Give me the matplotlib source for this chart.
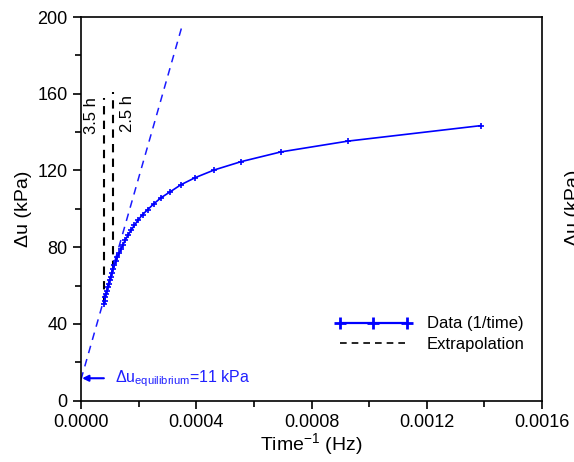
import matplotlib
matplotlib.use('Agg')
import numpy as np
import matplotlib.pyplot as plt
from matplotlib.lines import Line2D

plt.rcParams['font.family'] = ['Liberation Sans', 'DejaVu Sans']
plt.rcParams['mathtext.fontset'] = 'custom'
plt.rcParams['mathtext.rm'] = 'Liberation Sans'
plt.rcParams['mathtext.it'] = 'Liberation Sans:italic'

# elapsed time of each reading (min) and excess pore pressure (kPa)
time_min = [12, 18, 24, 30, 36, 42, 48, 54, 60, 66, 72, 78, 84, 90, 96, 102, 108,
            114, 120, 126, 132, 138, 144, 150, 156, 162, 168, 174, 180, 186, 192,
            198, 204, 210]
du_kpa = [143.4, 135.3, 129.7, 124.6, 120.3, 116.3, 112.6, 108.8, 105.8, 102.6,
          99.6, 97.0, 94.2, 91.4, 88.8, 86.4, 83.9, 81.4, 79.0, 76.8, 74.7, 72.6,
          70.5, 68.5, 66.6, 64.7, 62.8, 61.0, 59.2, 57.4, 55.6, 53.8, 52.1, 50.5]

# linear extrapolation to 1/t = 0
extrap_x = [0.0, 0.000353]
extrap_y = [11.0, 196.5]

# vertical markers at 3.5 h and 2.5 h
cut_hours = [3.5, 2.5]
cut_bottom = [50.5, 68.5]
cut_top = [158, 161]

inv_t = [1.0 / (t * 60.0) for t in time_min]

fig = plt.figure(figsize=(5.74, 4.62), dpi=100)
ax = fig.add_axes([0.1411, 0.1327, 0.8032, 0.8305])

ax.plot(extrap_x, extrap_y, color='#1a1aff', lw=1.1, ls=(0, (5, 4)))
for h, yb, yt in zip(cut_hours, cut_bottom, cut_top):
    xc = 1.0 / (h * 3600.0)
    ax.plot([xc, xc], [yb, yt], color='black', lw=1.5, ls=(0, (4, 3)))
ax.plot(inv_t, du_kpa, color='#0000ff', lw=1.2, marker='+', ms=5, mew=1.2)

ax.text(3.5e-5, 148.5, '3.5 h', rotation=90, ha='center', va='center', fontsize=12)
ax.text(1.6e-4, 149.5, '2.5 h', rotation=90, ha='center', va='center', fontsize=12)

ax.annotate('Δu$_{\\mathregular{equilibrium}}$=11 kPa', xy=(0.000004, 11.7),
            xytext=(0.000118, 11.7), ha='left', va='center', color='#2020ff',
            fontsize=11.5,
            arrowprops=dict(arrowstyle='-|>', color='#0000ff', lw=1.5,
                            mutation_scale=9, shrinkA=6, shrinkB=0))

ax.set_xlim(0, 0.0016)
ax.set_ylim(0, 200)
ax.set_xticks([0.0, 0.0004, 0.0008, 0.0012, 0.0016])
ax.set_xticklabels(['0.0000', '0.0004', '0.0008', '0.0012', '0.0016'])
ax.set_xticks([0.0002, 0.0006, 0.0010, 0.0014], minor=True)
ax.set_yticks([0, 40, 80, 120, 160, 200])
ax.set_yticks([20, 60, 100, 140, 180], minor=True)
ax.tick_params(which='major', direction='out', length=6, width=1.2, labelsize=13)
ax.tick_params(which='minor', direction='out', length=4, width=1.2)
for s in ax.spines.values():
    s.set_linewidth(1.2)

ax.set_xlabel('Time$^{\\mathregular{-1}}$ (Hz)', fontsize=14, labelpad=0)
ax.set_ylabel('Δu (kPa)', fontsize=14, labelpad=4)

handles = [Line2D([], [], color='#0000ff', lw=1.6, marker='+', ms=9, mew=2),
           Line2D([], [], color='black', lw=1.2, ls=(0, (4, 3)))]
ax.legend(handles, ['Data (1/time)', 'Extrapolation'], loc='center left',
          bbox_to_anchor=(0.551, 0.173), frameon=False, fontsize=12,
          numpoints=3, handlelength=4.6, handletextpad=0.9, labelspacing=0.35,
          borderpad=0, borderaxespad=0)

# label of the neighbouring panel, cut by the image edge
fig.text(573 / 574, 1 - 208 / 462, 'Δu (kPa)', rotation=90, ha='center',
         va='center', fontsize=14)

fig.savefig('out.png', dpi=100)
